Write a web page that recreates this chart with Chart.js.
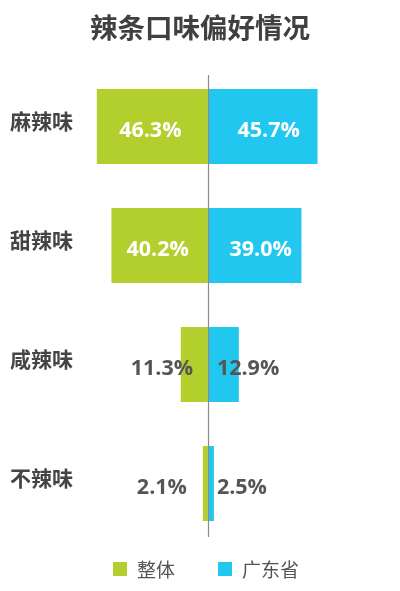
<!DOCTYPE html>
<html>
<head>
<meta charset="utf-8">
<script src="https://cdn.jsdelivr.net/npm/chart.js@4.4.1/dist/chart.umd.min.js"></script>
<style>
  html, body { margin: 0; padding: 0; background: #fff; }
  #wrap { width: 400px; height: 591px; }
</style>
</head>
<body>
<div id="wrap"><canvas id="tasteChart" width="400" height="591"></canvas></div>
<script>
// data
var categories = ['麻辣味', '甜辣味', '咸辣味', '不辣味'];
var seriesNames = ['整体', '广东省'];
var overall = [46.3, 40.2, 11.3, 2.1];
var guangdong = [45.7, 39.0, 12.9, 2.5];

var GREEN = '#b3cf2e';
var BLUE = '#22c7f0';
var CJK = '"Noto Sans CJK SC", "Noto Sans", sans-serif';
var NUM = '"Open Sans", "Noto Sans", sans-serif';

// gray line through zero, on top of the bars
var centerLine = {
    id: 'centerLine',
    afterDatasetsDraw: function (chart) {
        var x0 = Math.round(chart.scales.x.getPixelForValue(0)) + 0.5;
        var area = chart.chartArea;
        var ctx = chart.ctx;
        ctx.save();
        ctx.strokeStyle = '#8a8a8a';
        ctx.lineWidth = 1.2;
        ctx.beginPath();
        ctx.moveTo(x0, area.top + 8);
        ctx.lineTo(x0, area.bottom - 6);
        ctx.stroke();
        ctx.restore();
    }
};

// value labels: white inside big bars, gray beside small ones
var valueLabels = {
    id: 'valueLabels',
    afterDatasetsDraw: function (chart) {
        var ctx = chart.ctx;
        ctx.save();
        ctx.font = 'bold 21.5px ' + NUM;
        ctx.textBaseline = 'middle';
        chart.data.datasets.forEach(function (ds, di) {
            var meta = chart.getDatasetMeta(di);
            meta.data.forEach(function (bar, i) {
                var v = Math.abs(ds.data[i]);
                var text = v.toFixed(1) + '%';
                var y = bar.y + 4;
                var base = bar.base;
                if (v >= 20) {
                    ctx.fillStyle = '#ffffff';
                    ctx.textAlign = 'center';
                    var mid = (bar.x + base) / 2;
                    ctx.fillText(text, di === 0 ? mid - 2 : mid + 6, y);
                } else {
                    ctx.fillStyle = '#555555';
                    if (di === 0) {
                        ctx.textAlign = 'center';
                        ctx.fillText(text, base - 46, y);
                    } else {
                        ctx.textAlign = 'left';
                        ctx.fillText(text, base + 9, y);
                    }
                }
            });
        });
        ctx.restore();
    }
};

// legend drawn at the bottom from the dataset names/colours
var bottomLegend = {
    id: 'bottomLegend',
    afterDraw: function (chart) {
        var ctx = chart.ctx;
        var box = 14, gapText = 10, gapItem = 43;
        var y = 569;
        ctx.save();
        ctx.font = '19px ' + CJK;
        ctx.textBaseline = 'middle';
        ctx.textAlign = 'left';
        var widths = chart.data.datasets.map(function (ds) {
            return box + gapText + ctx.measureText(ds.label).width;
        });
        var total = widths.reduce(function (a, b) { return a + b; }, 0) + gapItem * (widths.length - 1);
        var x = 206 - total / 2;
        chart.data.datasets.forEach(function (ds, i) {
            ctx.fillStyle = ds.backgroundColor;
            ctx.fillRect(x, y - box / 2, box, box);
            ctx.fillStyle = '#555555';
            ctx.fillText(ds.label, x + box + gapText, y + 1);
            x += widths[i] + gapItem;
        });
        ctx.restore();
    }
};

var tasteChart = new Chart(
    document.getElementById('tasteChart'), {
    type: 'bar',
    data: {
        labels: categories,
        datasets: [{
            label: seriesNames[0],
            data: overall.map(function (v) { return -v; }),
            backgroundColor: GREEN,
            categoryPercentage: 0.63,
            barPercentage: 1
        }, {
            label: seriesNames[1],
            data: guangdong,
            backgroundColor: BLUE,
            categoryPercentage: 0.63,
            barPercentage: 1
        }]
    },
    options: {
        indexAxis: 'y',
        responsive: false,
        animation: false,
        devicePixelRatio: 1,
        layout: {
            padding: { left: 10, right: 10, top: 0, bottom: 48 }
        },
        plugins: {
            legend: { display: false },
            tooltip: { enabled: false },
            title: {
                display: true,
                text: '辣条口味偏好情况',
                color: '#404040',
                font: { family: CJK, size: 27.5, weight: 'bold' },
                padding: { top: 11, bottom: 23 }
            }
        },
        scales: {
            x: {
                display: false,
                stacked: true,
                min: -53.3,
                max: 75.9
            },
            y: {
                stacked: true,
                grid: { display: false },
                border: { display: false },
                afterFit: function (scale) {
                    scale.width = 70;
                },
                ticks: {
                    crossAlign: 'far',
                    padding: 0,
                    labelOffset: -5,
                    color: '#444444',
                    font: { family: CJK, size: 21, weight: 'bold' }
                }
            }
        }
    },
    plugins: [centerLine, valueLabels, bottomLegend]
});
</script>
</body>
</html>
